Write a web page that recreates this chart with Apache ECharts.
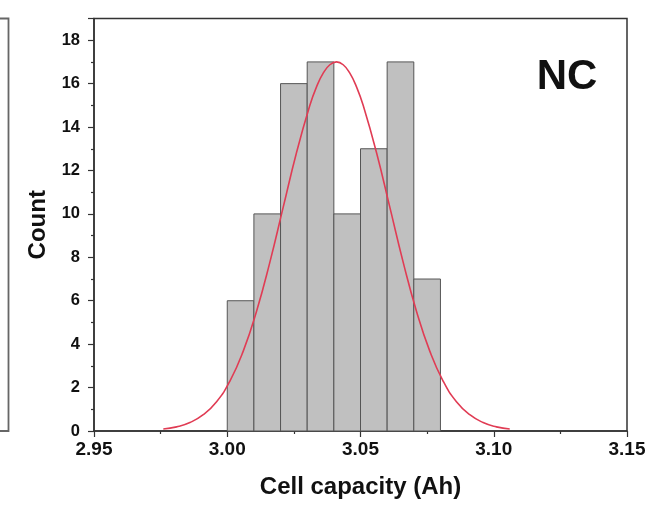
<!DOCTYPE html>
<html>
<head>
<meta charset="utf-8">
<script src="https://cdn.jsdelivr.net/npm/echarts@6/dist/echarts.min.js"></script>
<style>
html,body{margin:0;padding:0;background:#fff;}
#chart{width:650px;height:505px;}
</style>
</head>
<body>
<div id="chart"></div>
<script>
// Histogram bins (bin start, bin end) and counts
var binStarts = [3.00, 3.01, 3.02, 3.03, 3.04, 3.05, 3.06, 3.07];
var binEnds   = [3.01, 3.02, 3.03, 3.04, 3.05, 3.06, 3.07, 3.08];
var counts    = [6, 10, 16, 17, 10, 13, 17, 7];

// Fitted curve
var curveX = [2.976, 2.981, 2.986, 2.991, 2.996, 3.001, 3.006, 3.011, 3.016, 3.021, 3.026, 3.031, 3.0335, 3.036, 3.0385, 3.041,
              3.0435, 3.046, 3.0485, 3.051, 3.056, 3.061, 3.066, 3.071, 3.076, 3.081, 3.086, 3.091, 3.096, 3.101, 3.106];
var curveY = [0.09, 0.19, 0.39, 0.75, 1.35, 2.3, 3.68, 5.52, 7.78, 10.31, 12.83, 15.0, 15.85, 16.48, 16.87, 17.0,
              16.87, 16.48, 15.85, 15.0, 12.83, 10.31, 7.78, 5.52, 3.68, 2.3, 1.35, 0.75, 0.39, 0.19, 0.09];

var xTickMin = 2.95, xTickMax = 3.15, xTickStep = 0.05;
var yMin = 0, yMax = 19, yStep = 2;

var FONT = '"Liberation Sans", Arial, sans-serif';

var barData = binStarts.map(function (s, i) { return [s, binEnds[i], counts[i]]; });
var lineData = curveX.map(function (x, i) { return [x, curveY[i]]; });

var chart = echarts.init(document.getElementById('chart'), null, {renderer: 'canvas'});
chart.setOption({
  animation: false,
  backgroundColor: '#fff',
  grid: [
    {left: 94, right: 23, top: 18.5, bottom: 74, show: true, borderColor: '#333', borderWidth: 1.5, backgroundColor: 'transparent'}
  ],
  xAxis: [{
    type: 'value',
    min: xTickMin, max: xTickMax, interval: xTickStep,
    name: 'Cell capacity (Ah)', nameLocation: 'middle', nameGap: 44,
    nameTextStyle: {fontFamily: FONT, fontWeight: 'bold', fontSize: 24, color: '#111'},
    axisLine: {show: true, onZero: false, lineStyle: {color: '#333', width: 1.5}},
    axisTick: {show: true, inside: false, length: 6, lineStyle: {color: '#333', width: 1.2}},
    minorTick: {show: true, splitNumber: 2, length: 3, lineStyle: {color: '#333', width: 1.2}},
    axisLabel: {fontFamily: FONT, fontWeight: 'bold', fontSize: 19, color: '#111', margin: 9,
      formatter: function (v) { return v.toFixed(2); }},
    splitLine: {show: false}
  }],
  yAxis: [{
    type: 'value',
    min: yMin, max: yMax, interval: yStep,
    name: 'Count', nameLocation: 'middle', nameGap: 44, nameRotate: 90,
    nameTextStyle: {fontFamily: FONT, fontWeight: 'bold', fontSize: 24, color: '#111'},
    axisLine: {show: true, lineStyle: {color: '#333', width: 1.5}},
    axisTick: {show: true, inside: false, length: 6, lineStyle: {color: '#333', width: 1.2}},
    minorTick: {show: true, splitNumber: 2, length: 3, lineStyle: {color: '#333', width: 1.2}},
    axisLabel: {fontFamily: FONT, fontWeight: 'bold', fontSize: 16.5, color: '#111', margin: 14, showMaxLabel: false,
      formatter: function (v) { return v === yMax ? '' : String(v); }},
    splitLine: {show: false}
  }],
  series: [{
    type: 'custom',
    data: barData,
    encode: {x: [0, 1], y: 2},
    renderItem: function (params, api) {
      var p0 = api.coord([api.value(0), 0]);
      var p1 = api.coord([api.value(1), api.value(2)]);
      return {
        type: 'rect',
        shape: {x: p0[0], y: p1[1], width: p1[0] - p0[0], height: p0[1] - p1[1]},
        style: {fill: '#c0c0c0', stroke: '#555', lineWidth: 1}
      };
    },
    z: 2
  }, {
    type: 'line',
    data: lineData,
    smooth: 0.5,
    showSymbol: false,
    lineStyle: {color: '#e03c54', width: 1.6},
    z: 3
  }],
  graphic: [{
    type: 'text',
    x: 567, y: 77,
    style: {text: 'NC', font: 'bold 42px ' + FONT, fill: '#111', textAlign: 'center', textVerticalAlign: 'middle'}
  }, {
    // right edge of the neighbouring panel
    type: 'polyline',
    shape: {points: [[0, 18.5], [8.5, 18.5], [8.5, 431], [0, 431]]},
    style: {stroke: '#666', lineWidth: 1.8, fill: null}
  }]
});
</script>
</body>
</html>
